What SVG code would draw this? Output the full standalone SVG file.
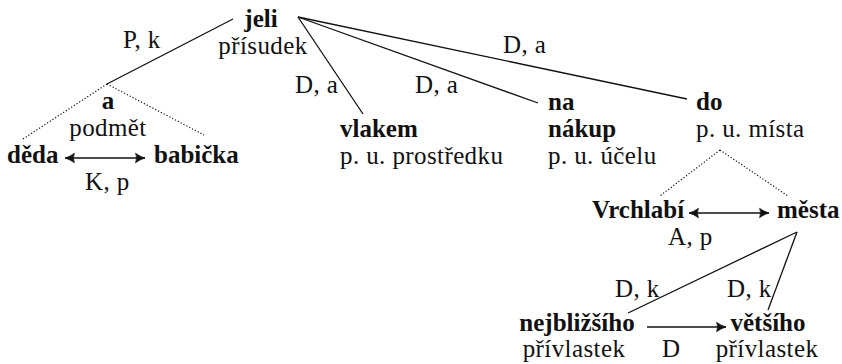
<svg xmlns="http://www.w3.org/2000/svg" width="842" height="364" viewBox="0 0 842 364" font-family="'Liberation Serif', 'Times New Roman', Times, serif">
<style>
text { font-family: 'Liberation Serif', 'Times New Roman', Times, serif; font-size: 25px; fill: #111; letter-spacing: 0.4px; }
.b { font-weight: bold; letter-spacing: 0; }
.m { text-anchor: middle; }
.e { stroke: #111; stroke-width: 1.3; fill: none; }
.d { stroke: #111; stroke-width: 1.2; fill: none; stroke-dasharray: 1.2 2; }
</style>
<defs>
<marker id="ah" markerUnits="userSpaceOnUse" markerWidth="14" markerHeight="12" viewBox="-11 -6 12 12" refX="0" refY="0" orient="auto-start-reverse">
<path d="M0,0 Q-5,-1.5 -9.5,-4.8 Q-7.5,0 -9.5,4.8 Q-5,1.5 0,0 Z" fill="#111" stroke="#111" stroke-width="0.6"/>
</marker>
</defs>
<g id="connectors">
<line class="e" x1="233" y1="19" x2="107" y2="84"/>
<line class="d" x1="107" y1="84" x2="23" y2="139"/>
<line class="d" x1="107" y1="84" x2="204" y2="135"/>
<line class="e" x1="65" y1="158" x2="145" y2="158" marker-start="url(#ah)" marker-end="url(#ah)"/>
<line class="e" x1="298" y1="17" x2="363" y2="114"/>
<line class="e" x1="298" y1="17" x2="538" y2="103"/>
<line class="e" x1="298" y1="17" x2="687" y2="99"/>
<line class="d" x1="720" y1="150" x2="660" y2="196"/>
<line class="d" x1="720" y1="150" x2="788" y2="196"/>
<line class="e" x1="689" y1="213" x2="769" y2="213" marker-start="url(#ah)" marker-end="url(#ah)"/>
<line class="e" x1="797" y1="232" x2="628" y2="313"/>
<line class="e" x1="797" y1="232" x2="768" y2="310"/>
<line class="e" x1="647" y1="327" x2="726" y2="327" marker-end="url(#ah)"/>
<text x="123" y="48">P, k</text>
<text x="295" y="93">D, a</text>
<text x="415" y="93">D, a</text>
<text x="503" y="53">D, a</text>
<text x="85" y="190">K, p</text>
<text x="668" y="245">A, p</text>
<text x="615" y="297">D, k</text>
<text x="727" y="297">D, k</text>
<text x="662" y="357">D</text>
</g>
<g id="jeli">
<text class="b m" x="261" y="27">jeli</text>
<text class="m" x="263" y="54">přísudek</text>
</g>
<g id="a">
<text class="b m" x="108" y="109">a</text>
<text class="m" x="108" y="136">podmět</text>
</g>
<g id="deda"><text class="b" x="7" y="163">děda</text></g>
<g id="babicka"><text class="b" x="154" y="163">babička</text></g>
<g id="vlakem">
<text class="b" x="340" y="137">vlakem</text>
<text x="340" y="164">p. u. prostředku</text>
</g>
<g id="na">
<text class="b" x="548" y="110">na</text>
<text class="b" x="548" y="137">nákup</text>
<text x="548" y="164">p. u. účelu</text>
</g>
<g id="do">
<text class="b" x="696" y="110">do</text>
<text x="696" y="137">p. u. místa</text>
</g>
<g id="vrchlabi"><text class="b" x="592" y="218">Vrchlabí</text></g>
<g id="mesta"><text class="b" x="777" y="218">města</text></g>
<g id="nejblizsiho">
<text class="b m" x="577" y="331">nejbližšího</text>
<text class="m" x="574" y="357">přívlastek</text>
</g>
<g id="vetsiho">
<text class="b m" x="768" y="331">většího</text>
<text class="m" x="767" y="357">přívlastek</text>
</g>
</svg>
